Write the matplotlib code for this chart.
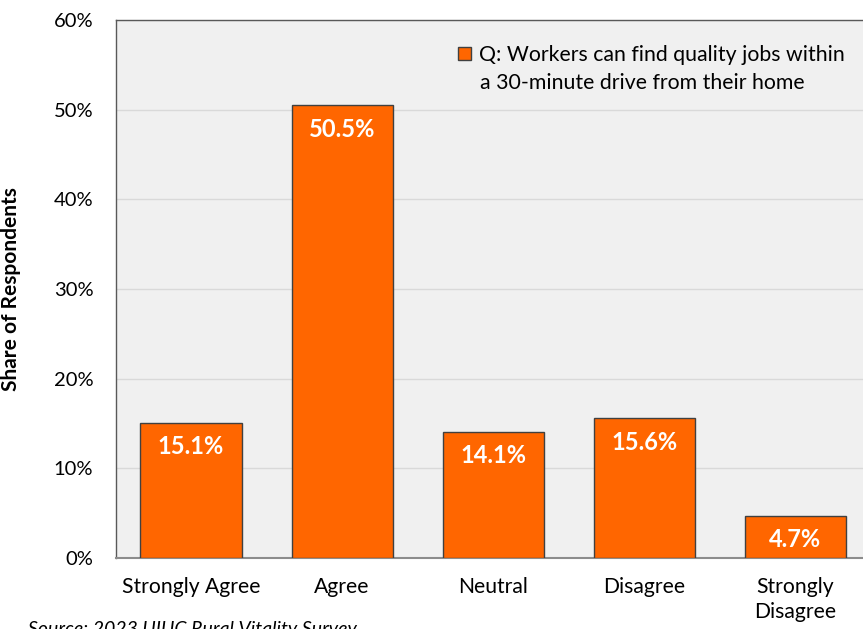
import numpy as np
import matplotlib.pyplot as plt
from matplotlib.patches import Patch

plt.rcParams['font.family'] = ['Lato', 'DejaVu Sans']

categories = ["Strongly Agree", "Agree", "Neutral", "Disagree", "Strongly\nDisagree"]
shares = [15.1, 50.5, 14.1, 15.6, 4.7]
y_ticks = [0, 10, 20, 30, 40, 50, 60]
series_label = ["Q: Workers can find quality jobs within", "a 30-minute drive from their home"]
source_text = "Source: 2023 UIUC Rural Vitality Survey"

orange = "#FF6600"

fig = plt.figure(figsize=(8.63, 6.29), dpi=100)
ax = fig.add_axes([115.5 / 863, 1 - 558 / 629, (871 - 115.5) / 863, (558 - 20) / 629])
ax.set_facecolor("#F0F0F0")

x = np.arange(len(categories))
bars = ax.bar(x, shares, width=0.67, color=orange, edgecolor="#404040", linewidth=1, zorder=3)

for xi, v in zip(x, shares):
    ax.annotate(f"{v:.1f}%", (xi, v), xytext=(0, -24), textcoords="offset pixels",
                ha="center", va="center", color="white", fontsize=17, fontweight="bold", zorder=4)

ax.set_xlim(-0.5, len(categories) - 0.5)
ax.set_ylim(0, 60)
ax.set_yticks(y_ticks)
ax.set_yticklabels([f"{t}%" for t in y_ticks], fontsize=14.5)
ax.set_xticks(x)
ax.set_xticklabels(categories, fontsize=15.2, linespacing=1.3)
ax.tick_params(axis="both", length=0, colors="black")
ax.tick_params(axis="y", pad=16)
ax.tick_params(axis="x", pad=14)
ax.yaxis.grid(True, color="#D9D9D9", linewidth=1, zorder=0)
ax.set_axisbelow(True)

for side in ["left", "top", "right"]:
    ax.spines[side].set_color("#595959")
    ax.spines[side].set_linewidth(1)
ax.spines["bottom"].set_color("#8C8C8C")
ax.spines["bottom"].set_linewidth(1.5)

ax.set_ylabel("Share of Respondents", fontsize=15, fontweight="bold")
ax.yaxis.set_label_coords(-(115.5 - 21) / 755.5, 0.5)

# legend: first line with the swatch, second line as a plain text under it
handle = Patch(facecolor=orange, edgecolor="#404040", linewidth=1)
ax.legend([handle], [series_label[0]], loc="center left",
          bbox_to_anchor=((458 - 115.5) / 755.5, 1 - (55 - 20) / 538),
          frameon=False, fontsize=15.3, handlelength=0.6, handleheight=0.6, handletextpad=0.4,
          borderaxespad=0, borderpad=0)
fig.text(480 / 863, 1 - 83 / 629, series_label[1], fontsize=15.3, va="center", ha="left")

fig.text(28 / 863, 1 - 621 / 629, source_text, fontsize=14, fontstyle="italic", va="top", ha="left")

fig.savefig("out.png", dpi=100)
